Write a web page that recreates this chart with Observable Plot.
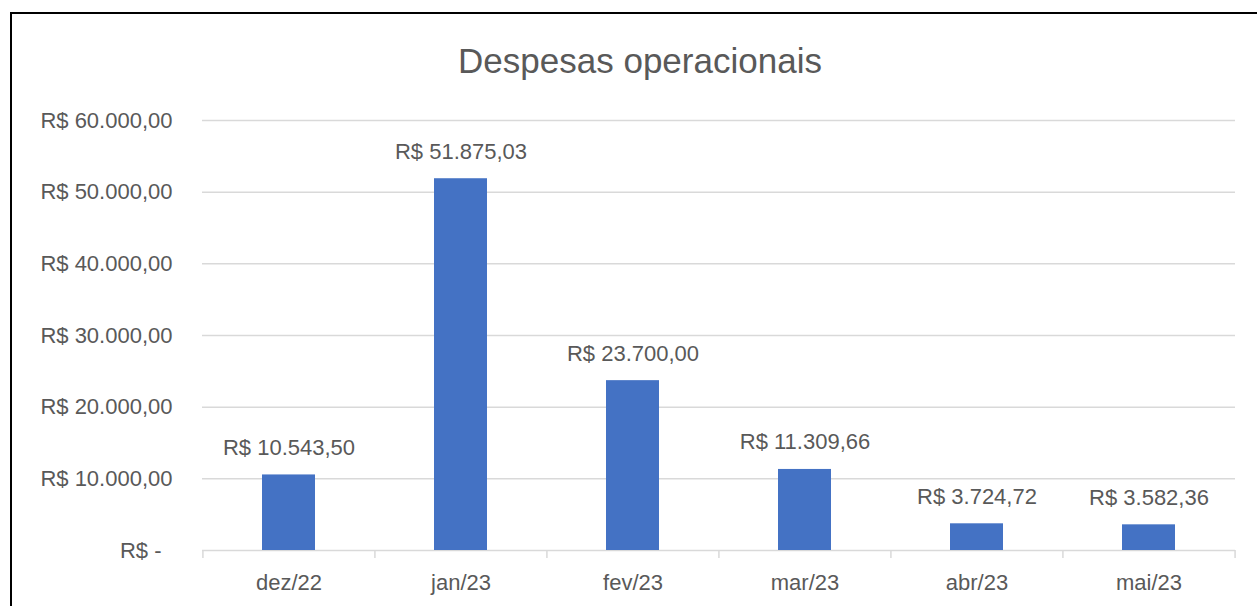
<!DOCTYPE html>
<html>
<head>
<meta charset="utf-8">
<script src="https://cdn.jsdelivr.net/npm/d3@7"></script>
<script src="https://cdn.jsdelivr.net/npm/@observablehq/plot@0.6"></script>
<style>
  html, body { margin: 0; padding: 0; background: #fff; }
  #wrap { position: relative; width: 1257px; height: 606px; overflow: hidden; background: #fff; }
  #frame { position: absolute; left: 10px; top: 12px; width: 2000px; height: 2000px; border: 2px solid #000; box-sizing: border-box; }
  #title { position: absolute; left: 0; width: 1280px; top: 39px; text-align: center; font-family: "Liberation Sans", sans-serif; font-size: 35px; color: #595959; line-height: 44px; }
  #chart { position: absolute; left: 0; top: 0; }
</style>
</head>
<body>
<div id="wrap">
  <div id="frame"></div>
  <div id="title">Despesas operacionais</div>
  <div id="chart"></div>
</div>
<script>
const months = ["dez/22", "jan/23", "fev/23", "mar/23", "abr/23", "mai/23"];
const values = [10543.50, 51875.03, 23700.00, 11309.66, 3724.72, 3582.36];
const yTicks = [0, 10000, 20000, 30000, 40000, 50000, 60000];

const data = months.map((m, i) => ({month: m, value: values[i]}));

const locale = d3.formatLocale({decimal: ",", thousands: ".", grouping: [3], currency: ["R$ ", ""]});
const money = locale.format("$,.2f");
const yFmt = d => d === 0 ? "R$ -\u2002" : money(d);

const W = 1257, H = 606, ML = 202, MR = 22, MT = 120, MB = 56;
const step = (W - ML - MR) / months.length;

const font = "Liberation Sans, sans-serif";
const textColor = "#595959";

const chart = Plot.plot({
  width: W,
  height: H,
  marginLeft: ML,
  marginRight: MR,
  marginTop: MT,
  marginBottom: MB,
  style: {fontFamily: font, fontSize: "22px", color: textColor, background: "transparent"},
  x: {domain: months, paddingInner: 0.69, paddingOuter: 0.345, label: null},
  y: {domain: [0, 60000], label: null},
  marks: [
    Plot.ruleY(yTicks, {stroke: "#d9d9d9", strokeWidth: 1.5}),
    Plot.ruleX(months, {x: d => d, y1: 0, y2: 0, dx: -step / 2, insetBottom: -8, stroke: "#d9d9d9", strokeWidth: 1.5}),
    Plot.ruleX(months.slice(-1), {x: d => d, y1: 0, y2: 0, dx: step / 2, insetBottom: -8, stroke: "#d9d9d9", strokeWidth: 1.5}),
    Plot.barY(data, {x: "month", y: "value", fill: "#4472c4"}),
    Plot.text(data, {x: "month", y: "value", text: d => money(d.value), dy: -27, fill: textColor, fontSize: 22}),
    Plot.axisY(yTicks, {tickSize: 0, tickPadding: 30, tickFormat: yFmt, fontSize: 22, fill: textColor, label: null}),
    Plot.axisX({tickSize: 0, tickPadding: 24, fontSize: 22, fill: textColor, label: null})
  ]
});
document.getElementById("chart").appendChild(chart);
</script>
</body>
</html>
